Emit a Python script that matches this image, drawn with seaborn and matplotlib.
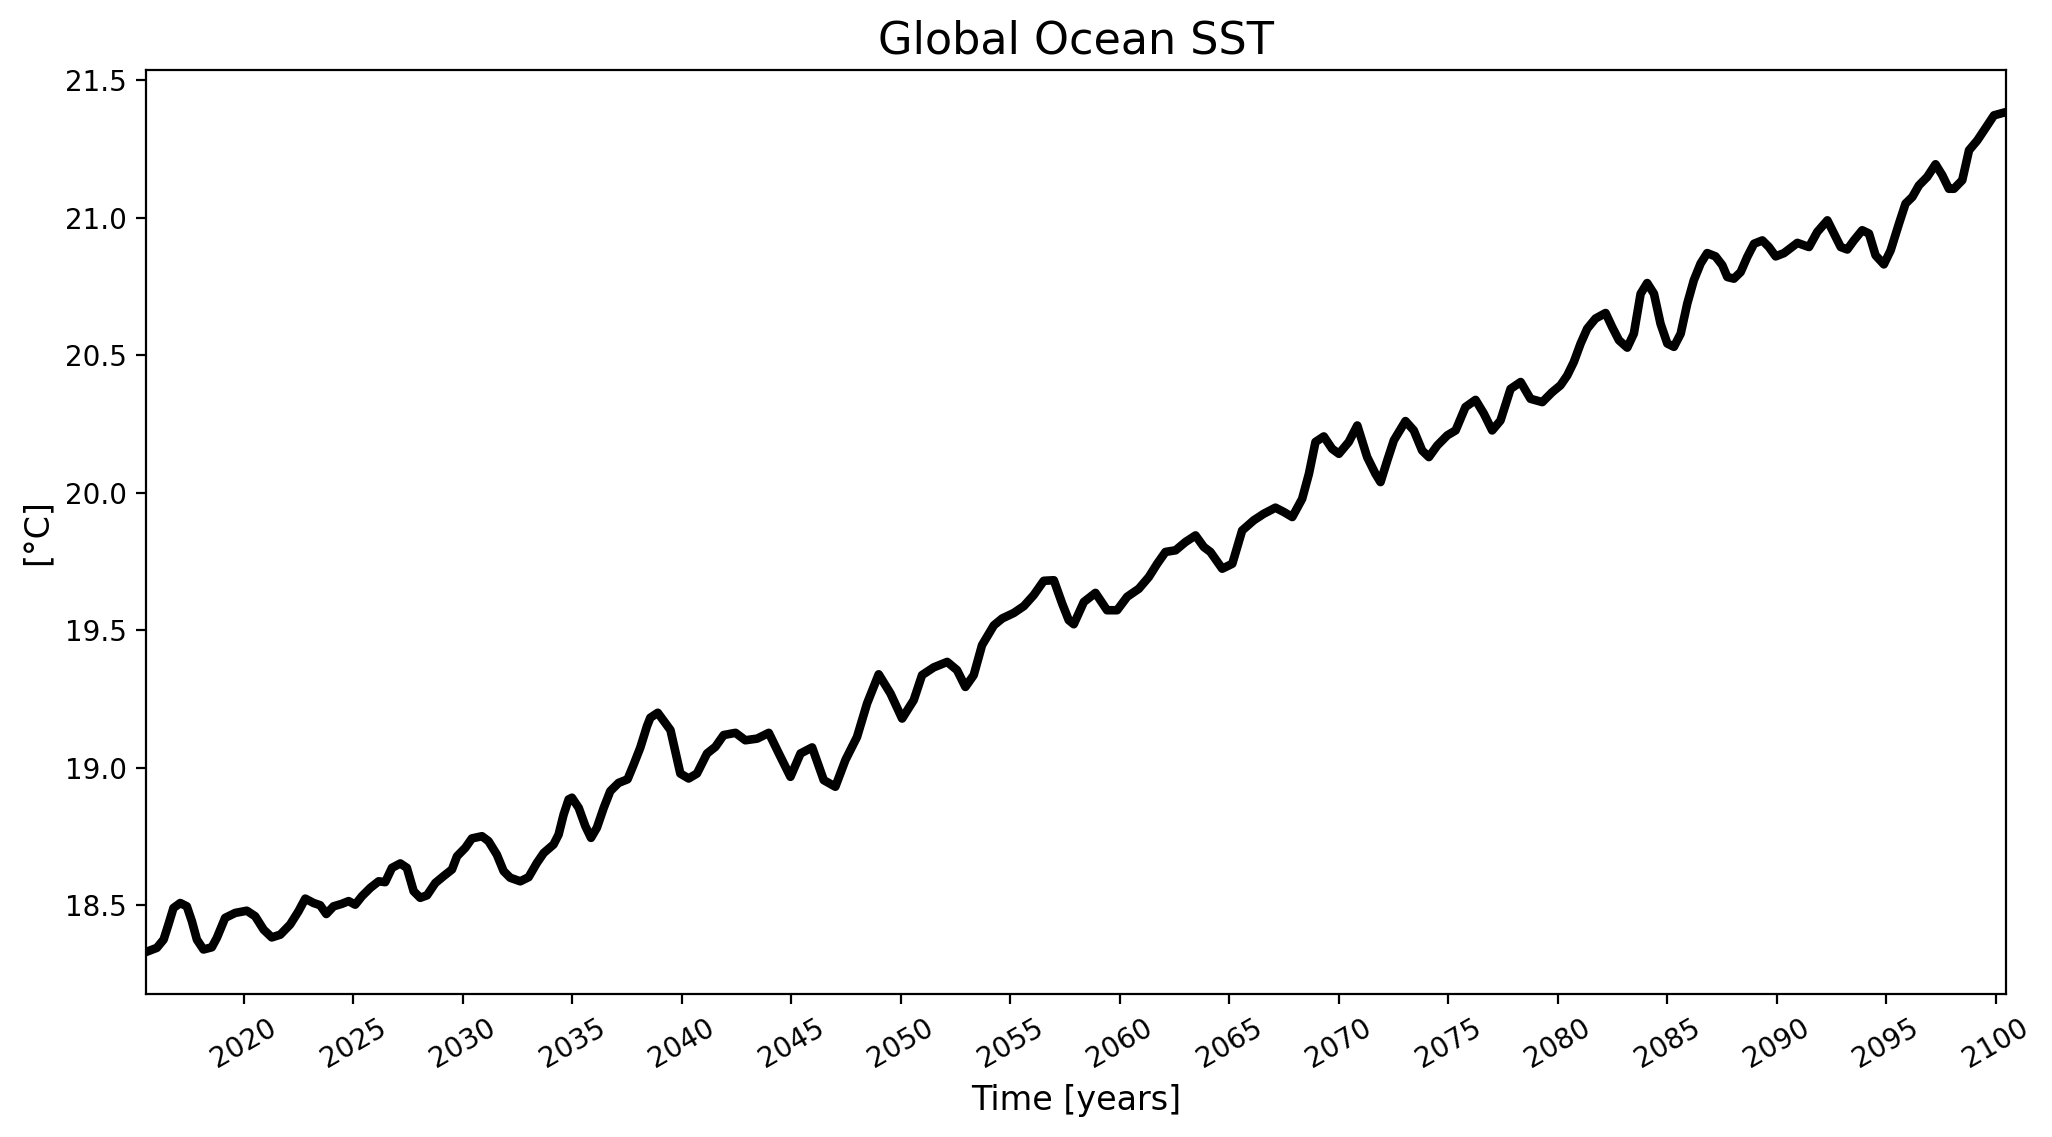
import matplotlib
matplotlib.use("Agg")
import matplotlib.pyplot as plt
import seaborn as sns

# Global mean SST (12-month running mean)
years = [
    2015.53, 2016.02, 2016.33, 2016.55, 2016.78, 2017.09, 2017.39, 2017.62, 2017.85, 2018.15,
    2018.53, 2018.76, 2019.14, 2019.60, 2020.13, 2020.51, 2020.90, 2021.27, 2021.66, 2022.11,
    2022.49, 2022.80, 2023.18, 2023.48, 2023.76, 2024.09, 2024.47, 2024.78, 2025.08, 2025.39,
    2025.77, 2026.15, 2026.45, 2026.76, 2027.14, 2027.44, 2027.75, 2028.05, 2028.36, 2028.74,
    2029.12, 2029.50, 2029.73, 2030.11, 2030.41, 2030.87, 2031.17, 2031.55, 2031.86, 2032.16,
    2032.62, 2033.00, 2033.38, 2033.69, 2034.14, 2034.37, 2034.60, 2034.83, 2034.98, 2035.29,
    2035.59, 2035.85, 2036.12, 2036.43, 2036.73, 2037.11, 2037.52, 2037.80, 2038.10, 2038.41,
    2038.56, 2038.90, 2039.48, 2039.93, 2040.31, 2040.69, 2041.15, 2041.53, 2041.91, 2042.45,
    2042.90, 2043.44, 2043.97, 2044.43, 2044.96, 2045.42, 2045.95, 2046.48, 2047.01, 2047.47,
    2048.00, 2048.46, 2048.99, 2049.53, 2050.06, 2050.59, 2050.97, 2051.50, 2052.12, 2052.57,
    2052.95, 2053.33, 2053.71, 2054.25, 2054.63, 2055.16, 2055.62, 2056.07, 2056.53, 2056.99,
    2057.37, 2057.67, 2057.90, 2058.36, 2058.89, 2059.42, 2059.88, 2060.34, 2060.87, 2061.33,
    2061.71, 2062.09, 2062.55, 2063.00, 2063.46, 2063.84, 2064.14, 2064.68, 2065.14, 2065.59,
    2066.12, 2066.58, 2067.11, 2067.50, 2067.88, 2068.33, 2068.64, 2068.94, 2069.32, 2069.70,
    2070.01, 2070.46, 2070.85, 2071.30, 2071.68, 2071.91, 2072.22, 2072.52, 2073.05, 2073.43,
    2073.81, 2074.12, 2074.50, 2074.96, 2075.34, 2075.79, 2076.25, 2076.63, 2077.01, 2077.39,
    2077.85, 2078.31, 2078.76, 2079.30, 2079.75, 2080.13, 2080.44, 2080.74, 2081.05, 2081.35,
    2081.73, 2082.19, 2082.49, 2082.80, 2083.18, 2083.48, 2083.79, 2084.09, 2084.40, 2084.70,
    2085.01, 2085.31, 2085.62, 2085.92, 2086.22, 2086.53, 2086.83, 2087.21, 2087.52, 2087.75,
    2088.05, 2088.36, 2088.66, 2088.97, 2089.35, 2089.65, 2089.96, 2090.34, 2090.95, 2091.48,
    2091.86, 2092.32, 2092.62, 2092.93, 2093.23, 2093.53, 2093.91, 2094.22, 2094.52, 2094.90,
    2095.21, 2095.59, 2095.89, 2096.20, 2096.50, 2096.88, 2097.26, 2097.57, 2097.87, 2098.10,
    2098.48, 2098.79, 2099.17, 2099.47, 2099.93, 2100.48,
]
sst = [
    18.330, 18.345, 18.375, 18.430, 18.490, 18.508, 18.496, 18.442, 18.375, 18.339,
    18.347, 18.381, 18.454, 18.472, 18.480, 18.460, 18.411, 18.383, 18.393, 18.430,
    18.478, 18.524, 18.508, 18.500, 18.468, 18.496, 18.505, 18.515, 18.502, 18.533,
    18.563, 18.587, 18.584, 18.636, 18.652, 18.636, 18.551, 18.527, 18.536, 18.581,
    18.606, 18.630, 18.678, 18.709, 18.743, 18.751, 18.733, 18.684, 18.624, 18.600,
    18.587, 18.602, 18.654, 18.690, 18.721, 18.757, 18.830, 18.885, 18.891, 18.854,
    18.788, 18.745, 18.782, 18.854, 18.915, 18.945, 18.958, 19.012, 19.073, 19.152,
    19.182, 19.200, 19.137, 18.979, 18.961, 18.979, 19.052, 19.076, 19.119, 19.127,
    19.100, 19.106, 19.127, 19.052, 18.967, 19.052, 19.074, 18.955, 18.931, 19.028,
    19.112, 19.234, 19.340, 19.270, 19.179, 19.246, 19.337, 19.365, 19.385, 19.355,
    19.294, 19.337, 19.446, 19.518, 19.543, 19.563, 19.588, 19.628, 19.680, 19.682,
    19.597, 19.537, 19.522, 19.603, 19.636, 19.573, 19.573, 19.622, 19.651, 19.694,
    19.742, 19.785, 19.791, 19.821, 19.845, 19.803, 19.785, 19.724, 19.742, 19.863,
    19.900, 19.924, 19.946, 19.930, 19.912, 19.978, 20.069, 20.185, 20.205, 20.160,
    20.142, 20.185, 20.245, 20.130, 20.069, 20.039, 20.118, 20.191, 20.261, 20.227,
    20.154, 20.130, 20.172, 20.209, 20.227, 20.312, 20.338, 20.288, 20.227, 20.263,
    20.378, 20.403, 20.342, 20.330, 20.366, 20.391, 20.427, 20.476, 20.543, 20.597,
    20.634, 20.654, 20.603, 20.555, 20.528, 20.579, 20.724, 20.763, 20.724, 20.615,
    20.543, 20.531, 20.579, 20.688, 20.773, 20.834, 20.872, 20.860, 20.828, 20.785,
    20.779, 20.803, 20.858, 20.906, 20.918, 20.894, 20.860, 20.872, 20.909, 20.894,
    20.949, 20.991, 20.943, 20.894, 20.885, 20.918, 20.955, 20.943, 20.864, 20.831,
    20.882, 20.979, 21.052, 21.076, 21.118, 21.149, 21.195, 21.155, 21.106, 21.106,
    21.137, 21.246, 21.282, 21.318, 21.373, 21.385,
]
year_ticks = list(range(2020, 2101, 5))

fig, ax = plt.subplots(figsize=(10.26, 5.685), dpi=200)
fig.subplots_adjust(left=0.0712, right=0.9776, top=0.9384, bottom=0.1258)

sns.lineplot(x=years, y=sst, color="black", linewidth=3.1, ax=ax)

ax.set_xlim(years[0], years[-1])
ax.set_xticks(year_ticks)
ax.tick_params(axis="x", labelrotation=30)

ax.set_title("Global Ocean SST", fontsize=16)
ax.set_xlabel("Time [years]", fontsize=12)
ax.set_ylabel("[°C]", fontsize=12)

fig.savefig("out.png", dpi=200)
